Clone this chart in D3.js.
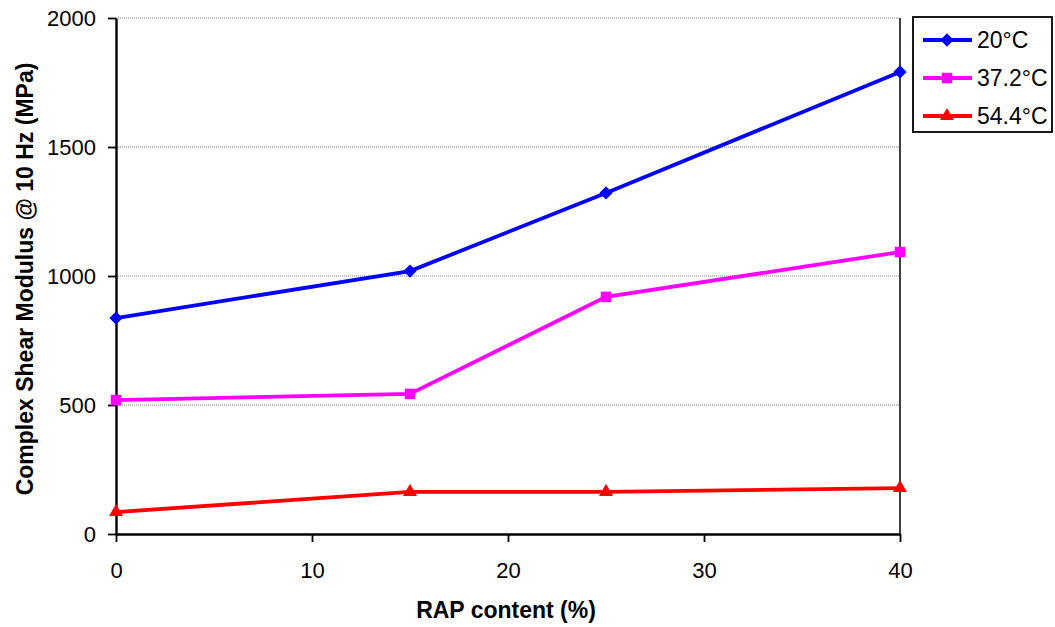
<!DOCTYPE html>
<html>
<head>
<meta charset="utf-8">
<script src="https://cdn.jsdelivr.net/npm/d3@7"></script>
<style>
  html, body { margin: 0; padding: 0; background: #fff; }
  svg { display: block; font-family: "Liberation Sans", Arial, sans-serif; }
</style>
</head>
<body>
<svg id="chart" width="1055" height="627"></svg>
<script>
// RAP content (%) on the x axis
const rapContent = [0, 15, 25, 40];
// Complex shear modulus at 10 Hz (MPa) for each test temperature
const modulus20 = [837, 1019, 1322, 1791];
const modulus372 = [519, 543, 919, 1093];
const modulus544 = [85, 163, 163, 178];
const seriesNames = ["20°C", "37.2°C", "54.4°C"];
const xTicks = [0, 10, 20, 30, 40];
const yTicks = [0, 500, 1000, 1500, 2000];

// square rotated 45 degrees gives an equal-sided diamond
const symbolRhomb = {
  draw(ctx, size) {
    const r = Math.sqrt(size / 2);
    ctx.moveTo(0, -r); ctx.lineTo(r, 0); ctx.lineTo(0, r); ctx.lineTo(-r, 0); ctx.closePath();
  }
};

const series = [
  { name: seriesNames[0], values: modulus20, color: "#0000ff", symbol: symbolRhomb, size: 88 },
  { name: seriesNames[1], values: modulus372, color: "#ff00ff", symbol: d3.symbolSquare, size: 110 },
  { name: seriesNames[2], values: modulus544, color: "#ff0000", symbol: d3.symbolTriangle, size: 85 }
];

const svg = d3.select("#chart");
const plot = { left: 116, right: 900, top: 18, bottom: 534 };

const x = d3.scaleLinear().domain([0, 40]).range([plot.left, plot.right]);
const y = d3.scaleLinear().domain([0, 2000]).range([plot.bottom, plot.top]);

// dotted horizontal gridlines
svg.append("g")
  .selectAll("line")
  .data(yTicks.filter(d => d > 0))
  .join("line")
  .attr("x1", plot.left).attr("x2", plot.right)
  .attr("y1", d => y(d)).attr("y2", d => y(d))
  .attr("stroke", "#808080")
  .attr("stroke-width", 1)
  .attr("stroke-dasharray", "1,1");

// right border of the plot area
svg.append("line")
  .attr("x1", plot.right).attr("x2", plot.right)
  .attr("y1", plot.top).attr("y2", plot.bottom)
  .attr("stroke", "#000").attr("stroke-width", 1.5);

// axes
const xAxis = svg.append("g")
  .attr("transform", `translate(0,${plot.bottom})`)
  .call(d3.axisBottom(x).tickValues(xTicks).tickFormat(d3.format("d"))
    .tickSize(8).tickPadding(20).tickSizeOuter(0));
const yAxis = svg.append("g")
  .attr("transform", `translate(${plot.left},0)`)
  .call(d3.axisLeft(y).tickValues(yTicks).tickFormat(d3.format("d"))
    .tickSize(8).tickPadding(12).tickSizeOuter(0));

[xAxis, yAxis].forEach(g => {
  g.select(".domain").attr("stroke", "#000").attr("stroke-width", 2.4);
  g.selectAll(".tick line").attr("stroke", "#000").attr("stroke-width", 1.8);
  g.selectAll(".tick text")
    .attr("fill", "#000")
    .style("font-family", "'Liberation Sans', Arial, sans-serif")
    .style("font-size", "22px");
});

// series lines and markers
const line = d3.line()
  .x((d, i) => x(rapContent[i]))
  .y(d => y(d));

series.forEach(s => {
  svg.append("path")
    .datum(s.values)
    .attr("d", line)
    .attr("fill", "none")
    .attr("stroke", s.color)
    .attr("stroke-width", 3.8);
  svg.append("g")
    .selectAll("path")
    .data(s.values)
    .join("path")
    .attr("d", d3.symbol().type(s.symbol).size(s.size))
    .attr("transform", (d, i) => `translate(${x(rapContent[i])},${y(d)})`)
    .attr("fill", s.color);
});

// axis titles
svg.append("text")
  .attr("x", (plot.left + plot.right) / 2 - 2)
  .attr("y", 618)
  .attr("text-anchor", "middle")
  .style("font-size", "23px")
  .style("font-weight", "bold")
  .text("RAP content (%)");

svg.append("text")
  .attr("transform", `translate(33,${(plot.top + plot.bottom) / 2 + 3}) rotate(-90)`)
  .attr("text-anchor", "middle")
  .style("font-size", "23px")
  .style("font-weight", "bold")
  .text("Complex Shear Modulus @ 10 Hz (MPa)");

// legend
const legend = svg.append("g");
legend.append("rect")
  .attr("x", 913).attr("y", 17)
  .attr("width", 139).attr("height", 115)
  .attr("fill", "#fff")
  .attr("stroke", "#000").attr("stroke-width", 1.8);

series.forEach((s, i) => {
  const ly = 40 + i * 38;
  legend.append("line")
    .attr("x1", 923).attr("x2", 972)
    .attr("y1", ly).attr("y2", ly)
    .attr("stroke", s.color).attr("stroke-width", 3.8);
  legend.append("path")
    .attr("d", d3.symbol().type(s.symbol).size(s.size))
    .attr("transform", `translate(947,${ly})`)
    .attr("fill", s.color);
  legend.append("text")
    .attr("x", 977).attr("y", ly + 8)
    .style("font-size", "23px")
    .text(s.name);
});
</script>
</body>
</html>
